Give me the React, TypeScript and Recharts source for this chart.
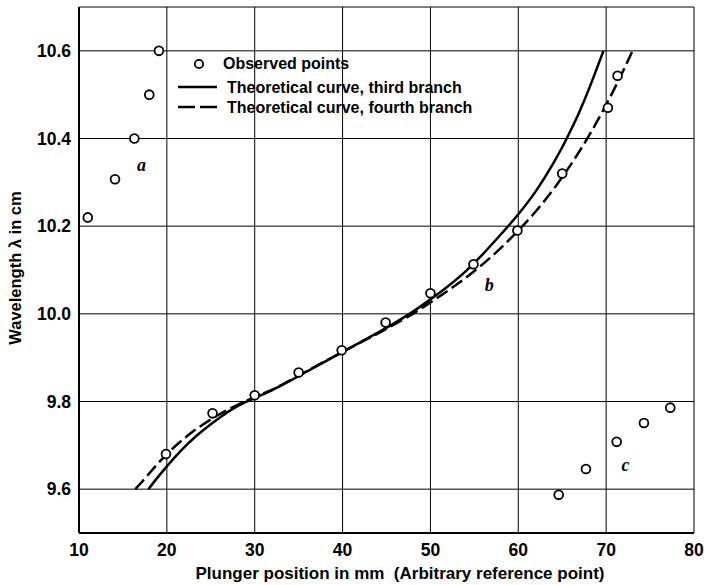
import React from 'react';
import {
  ComposedChart, Line, Scatter, XAxis, YAxis, CartesianGrid, ReferenceDot, Customized,
} from 'recharts';

// Observed points (plunger position mm, wavelength cm)
const observedX = [11.0, 14.1, 16.3, 18.0, 19.1, 19.9, 25.2, 30.0, 35.0, 39.9, 44.9, 50.0, 54.9, 59.9, 65.0, 70.2, 71.3, 64.6, 67.7, 71.2, 74.3, 77.3];
const observedY = [10.22, 10.307, 10.40, 10.50, 10.60, 9.68, 9.773, 9.814, 9.866, 9.917, 9.98, 10.047, 10.113, 10.19, 10.32, 10.47, 10.543, 9.587, 9.646, 9.708, 9.751, 9.786];

// Theoretical curve, third branch (solid)
const thirdX = [17.9, 19, 20, 21, 22, 23, 24, 25, 26, 27, 28, 29, 30, 32, 34, 36, 38, 40, 42, 44, 46, 48, 50, 52, 54, 56, 58, 60, 62, 64, 65, 66, 67, 68, 69, 69.7];
const thirdY = [9.600, 9.628, 9.652, 9.675, 9.696, 9.715, 9.732, 9.748, 9.763, 9.777, 9.789, 9.799, 9.808, 9.826, 9.847, 9.869, 9.891, 9.913, 9.935, 9.957, 9.980, 10.005, 10.033, 10.063, 10.097, 10.137, 10.181, 10.227, 10.280, 10.344, 10.380, 10.420, 10.463, 10.511, 10.563, 10.600];

// Theoretical curve, fourth branch (dashed)
const fourthX = [16.4, 17, 18, 19, 20, 21, 22, 23, 24, 25, 26, 27, 28, 29, 30, 32, 34, 36, 38, 40, 42, 44, 46, 48, 50, 52, 54, 56, 58, 60, 62, 64, 65, 66, 67, 68, 69, 70, 71, 72, 73];
const fourthY = [9.600, 9.613, 9.636, 9.659, 9.680, 9.699, 9.716, 9.732, 9.746, 9.759, 9.771, 9.782, 9.792, 9.801, 9.810, 9.827, 9.848, 9.870, 9.892, 9.913, 9.934, 9.955, 9.977, 10.000, 10.026, 10.053, 10.082, 10.114, 10.150, 10.190, 10.234, 10.284, 10.312, 10.341, 10.372, 10.405, 10.440, 10.477, 10.516, 10.557, 10.600];

const xTicks = [10, 20, 30, 40, 50, 60, 70, 80];
const yTicks = [9.5, 9.6, 9.8, 10.0, 10.2, 10.4, 10.6, 10.7];
const yLabeled = [9.6, 9.8, 10.0, 10.2, 10.4, 10.6];

const groupLabels = ['a', 'b', 'c'];
const groupLabelX = [17.1, 56.7, 72.2];
const groupLabelY = [10.34, 10.067, 9.656];

const legendLabels = ['Observed points', 'Theoretical curve, third branch', 'Theoretical curve, fourth branch'];

const observed = observedX.map((x, i) => ({ x, y: observedY[i] }));
const third = thirdX.map((x, i) => ({ x, y: thirdY[i] }));
const fourth = fourthX.map((x, i) => ({ x, y: fourthY[i] }));

const FONT = '"Liberation Sans", Arial, sans-serif';

const LegendBox = () => (
  <g fontFamily={FONT} fontSize={16} fontWeight="bold" fill="#000">
    <circle cx={199} cy={64} r={4.2} fill="#fff" stroke="#000" strokeWidth={1.8} />
    <text x={223} y={69}>{legendLabels[0]}</text>
    <line x1={178} x2={217} y1={87} y2={87} stroke="#000" strokeWidth={2.5} />
    <text x={227} y={93}>{legendLabels[1]}</text>
    <line x1={178} x2={217} y1={107} y2={107} stroke="#000" strokeWidth={2.5} strokeDasharray="17 5" />
    <text x={227} y={113}>{legendLabels[2]}</text>
  </g>
);

const fmtY = (v: number) => (yLabeled.some((t) => Math.abs(t - v) < 1e-6) ? v.toFixed(1) : '');

export default function App() {
  return (
    <div style={{ position: 'absolute', left: 0, top: 0, background: '#fff' }}>
      <ComposedChart width={704} height={585} margin={{ top: 7, right: 10, bottom: 0, left: 0 }}>
        <CartesianGrid stroke="#000" strokeWidth={1} />
        <XAxis
          type="number"
          dataKey="x"
          domain={[10, 80]}
          ticks={xTicks}
          interval={0}
          height={52}
          tickSize={0}
          tickMargin={11}
          axisLine={{ stroke: '#000', strokeWidth: 2 }}
          tick={{ fill: '#000', fontSize: 17.5, fontWeight: 'bold', fontFamily: FONT }}
          allowDataOverflow
          label={{
            content: () => (
              <text x={400} y={579} textAnchor="middle" fontFamily={FONT} fontSize={17} fontWeight="bold" fill="#000" style={{ whiteSpace: 'pre' }}>
                {'Plunger position in mm  (Arbitrary reference point)'}
              </text>
            ),
          }}
        />
        <YAxis
          type="number"
          dataKey="y"
          domain={[9.5, 10.7]}
          ticks={yTicks}
          interval={0}
          width={79}
          tickSize={0}
          tickMargin={8}
          tickFormatter={fmtY}
          axisLine={{ stroke: '#000', strokeWidth: 2 }}
          tick={{ fill: '#000', fontSize: 17.5, fontWeight: 'bold', fontFamily: FONT }}
          allowDataOverflow
          label={{
            content: () => (
              <text x={21} y={268} textAnchor="middle" transform="rotate(-90 21 268)" fontFamily={FONT} fontSize={16.5} fontWeight="bold" fill="#000">
                Wavelength λ in cm
              </text>
            ),
          }}
        />
        <Line data={third} dataKey="y" type="monotone" stroke="#000" strokeWidth={2.5} dot={false} isAnimationActive={false} />
        <Line data={fourth} dataKey="y" type="monotone" stroke="#000" strokeWidth={2.5} strokeDasharray="13 5" dot={false} isAnimationActive={false} />
        <Scatter
          data={observed}
          dataKey="y"
          isAnimationActive={false}
          shape={(p: any) => <circle cx={p.cx} cy={p.cy} r={4.4} fill="#fff" stroke="#000" strokeWidth={1.8} />}
        />
        {groupLabels.map((g, i) => (
          <ReferenceDot
            key={g}
            x={groupLabelX[i]}
            y={groupLabelY[i]}
            r={0}
            fill="none"
            stroke="none"
            label={{ value: g, position: 'center', fontFamily: '"Liberation Serif", serif', fontStyle: 'italic', fontWeight: 'bold', fontSize: 18, fill: '#000' }}
          />
        ))}
        <Customized component={LegendBox} />
      </ComposedChart>
    </div>
  );
}
